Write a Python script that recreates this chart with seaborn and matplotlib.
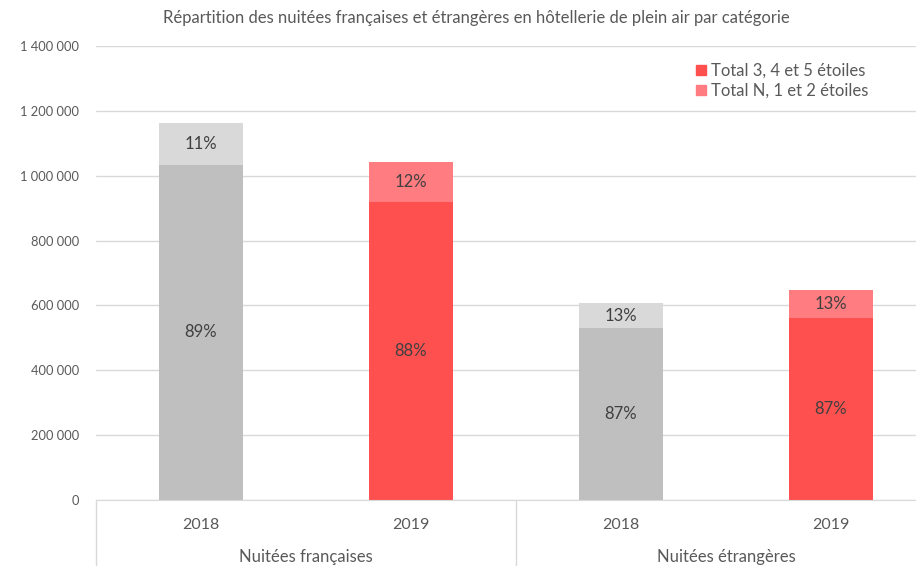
import numpy as np
import pandas as pd
import matplotlib.pyplot as plt
import seaborn as sns
from matplotlib.patches import Patch

# données
groupes = ['Nuitées françaises', 'Nuitées françaises', 'Nuitées étrangères', 'Nuitées étrangères']
annees = ['2018', '2019', '2018', '2019']
etoiles_345 = [1034000, 919000, 530000, 562000]
etoiles_n12 = [129000, 123000, 77000, 86000]

couleurs_bas = {'2018': '#BFBFBF', '2019': '#FF5050'}
couleurs_haut = {'2018': '#D9D9D9', '2019': '#FF7C80'}

df = pd.DataFrame({'Groupe': groupes, 'Annee': annees,
                   'Haut': etoiles_345, 'Bas_N12': etoiles_n12})
df['Barre'] = [f'{g} {a}' for g, a in zip(df['Groupe'], df['Annee'])]
df['Total'] = df['Haut'] + df['Bas_N12']

sns.set_style('white')
plt.rcParams['font.family'] = ['Lato', 'DejaVu Sans']
gris = '#595959'

fig = plt.figure(figsize=(9.16, 5.66), dpi=100)
ax = fig.add_axes([0.1048, 0.1166, 0.917, 0.8021])

# barre totale (partie claire) puis partie basse par-dessus
sns.barplot(data=df, x='Barre', y='Total', hue='Barre', width=0.4, ax=ax,
            palette=[couleurs_haut[a] for a in df['Annee']], legend=False,
            saturation=1, linewidth=0)
sns.barplot(data=df, x='Barre', y='Haut', hue='Barre', width=0.4, ax=ax,
            palette=[couleurs_bas[a] for a in df['Annee']], legend=False,
            saturation=1, linewidth=0)

for i, row in df.iterrows():
    p_bas = row['Haut'] / row['Total'] * 100
    p_haut = row['Bas_N12'] / row['Total'] * 100
    ax.text(i, row['Haut'] / 2, f'{p_bas:.0f}%', ha='center', va='center',
            fontsize=12, color='#404040')
    ax.text(i, row['Haut'] + row['Bas_N12'] / 2, f'{p_haut:.0f}%', ha='center',
            va='center', fontsize=12, color='#404040')

ax.set_ylim(0, 1400000)
ax.set_xlim(-0.5, 3.5)
yt = np.arange(0, 1400001, 200000)
ax.set_yticks(yt)
ax.set_yticklabels([f'{v:,}'.replace(',', ' ') for v in yt], fontsize=9.3, color=gris)
ax.tick_params(axis='y', length=0, pad=12)
ax.yaxis.grid(True, color='#D9D9D9', linewidth=1)
ax.set_axisbelow(True)
ax.set_xticks(range(4))
ax.set_xticklabels(df['Annee'], fontsize=11.5, color=gris)
ax.tick_params(axis='x', length=0, pad=13)
ax.set_xlabel('')
ax.set_ylabel('')
for s in ['top', 'right', 'left']:
    ax.spines[s].set_visible(False)
ax.spines['bottom'].set_color('#D9D9D9')

# séparateurs et libellés de groupe sous l'axe
for xs in [-0.5, 1.5, 3.5]:
    ax.plot([xs, xs], [0, -0.145], transform=ax.get_xaxis_transform(),
            color='#D9D9D9', linewidth=1, clip_on=False)
for xg, g in [(0.5, 'Nuitées françaises'), (2.5, 'Nuitées étrangères')]:
    ax.text(xg, -0.125, g, transform=ax.get_xaxis_transform(), ha='center',
            va='center', fontsize=12, color=gris)

fig.text(0.52, 0.968, 'Répartition des nuitées françaises et étrangères en hôtellerie de plein air par catégorie',
         ha='center', va='center', fontsize=12, color=gris)

poignees = [Patch(color='#FF5050', label='Total 3, 4 et 5 étoiles'),
            Patch(color='#FF7C80', label='Total N, 1 et 2 étoiles')]
ax.legend(handles=poignees, loc='upper left', bbox_to_anchor=(0.706, 0.978),
          frameon=False, fontsize=12, handlelength=0.6, handleheight=0.6,
          handletextpad=0.3, labelspacing=0.25, labelcolor=gris,
          borderaxespad=0)

fig.savefig('out.png', dpi=100)
